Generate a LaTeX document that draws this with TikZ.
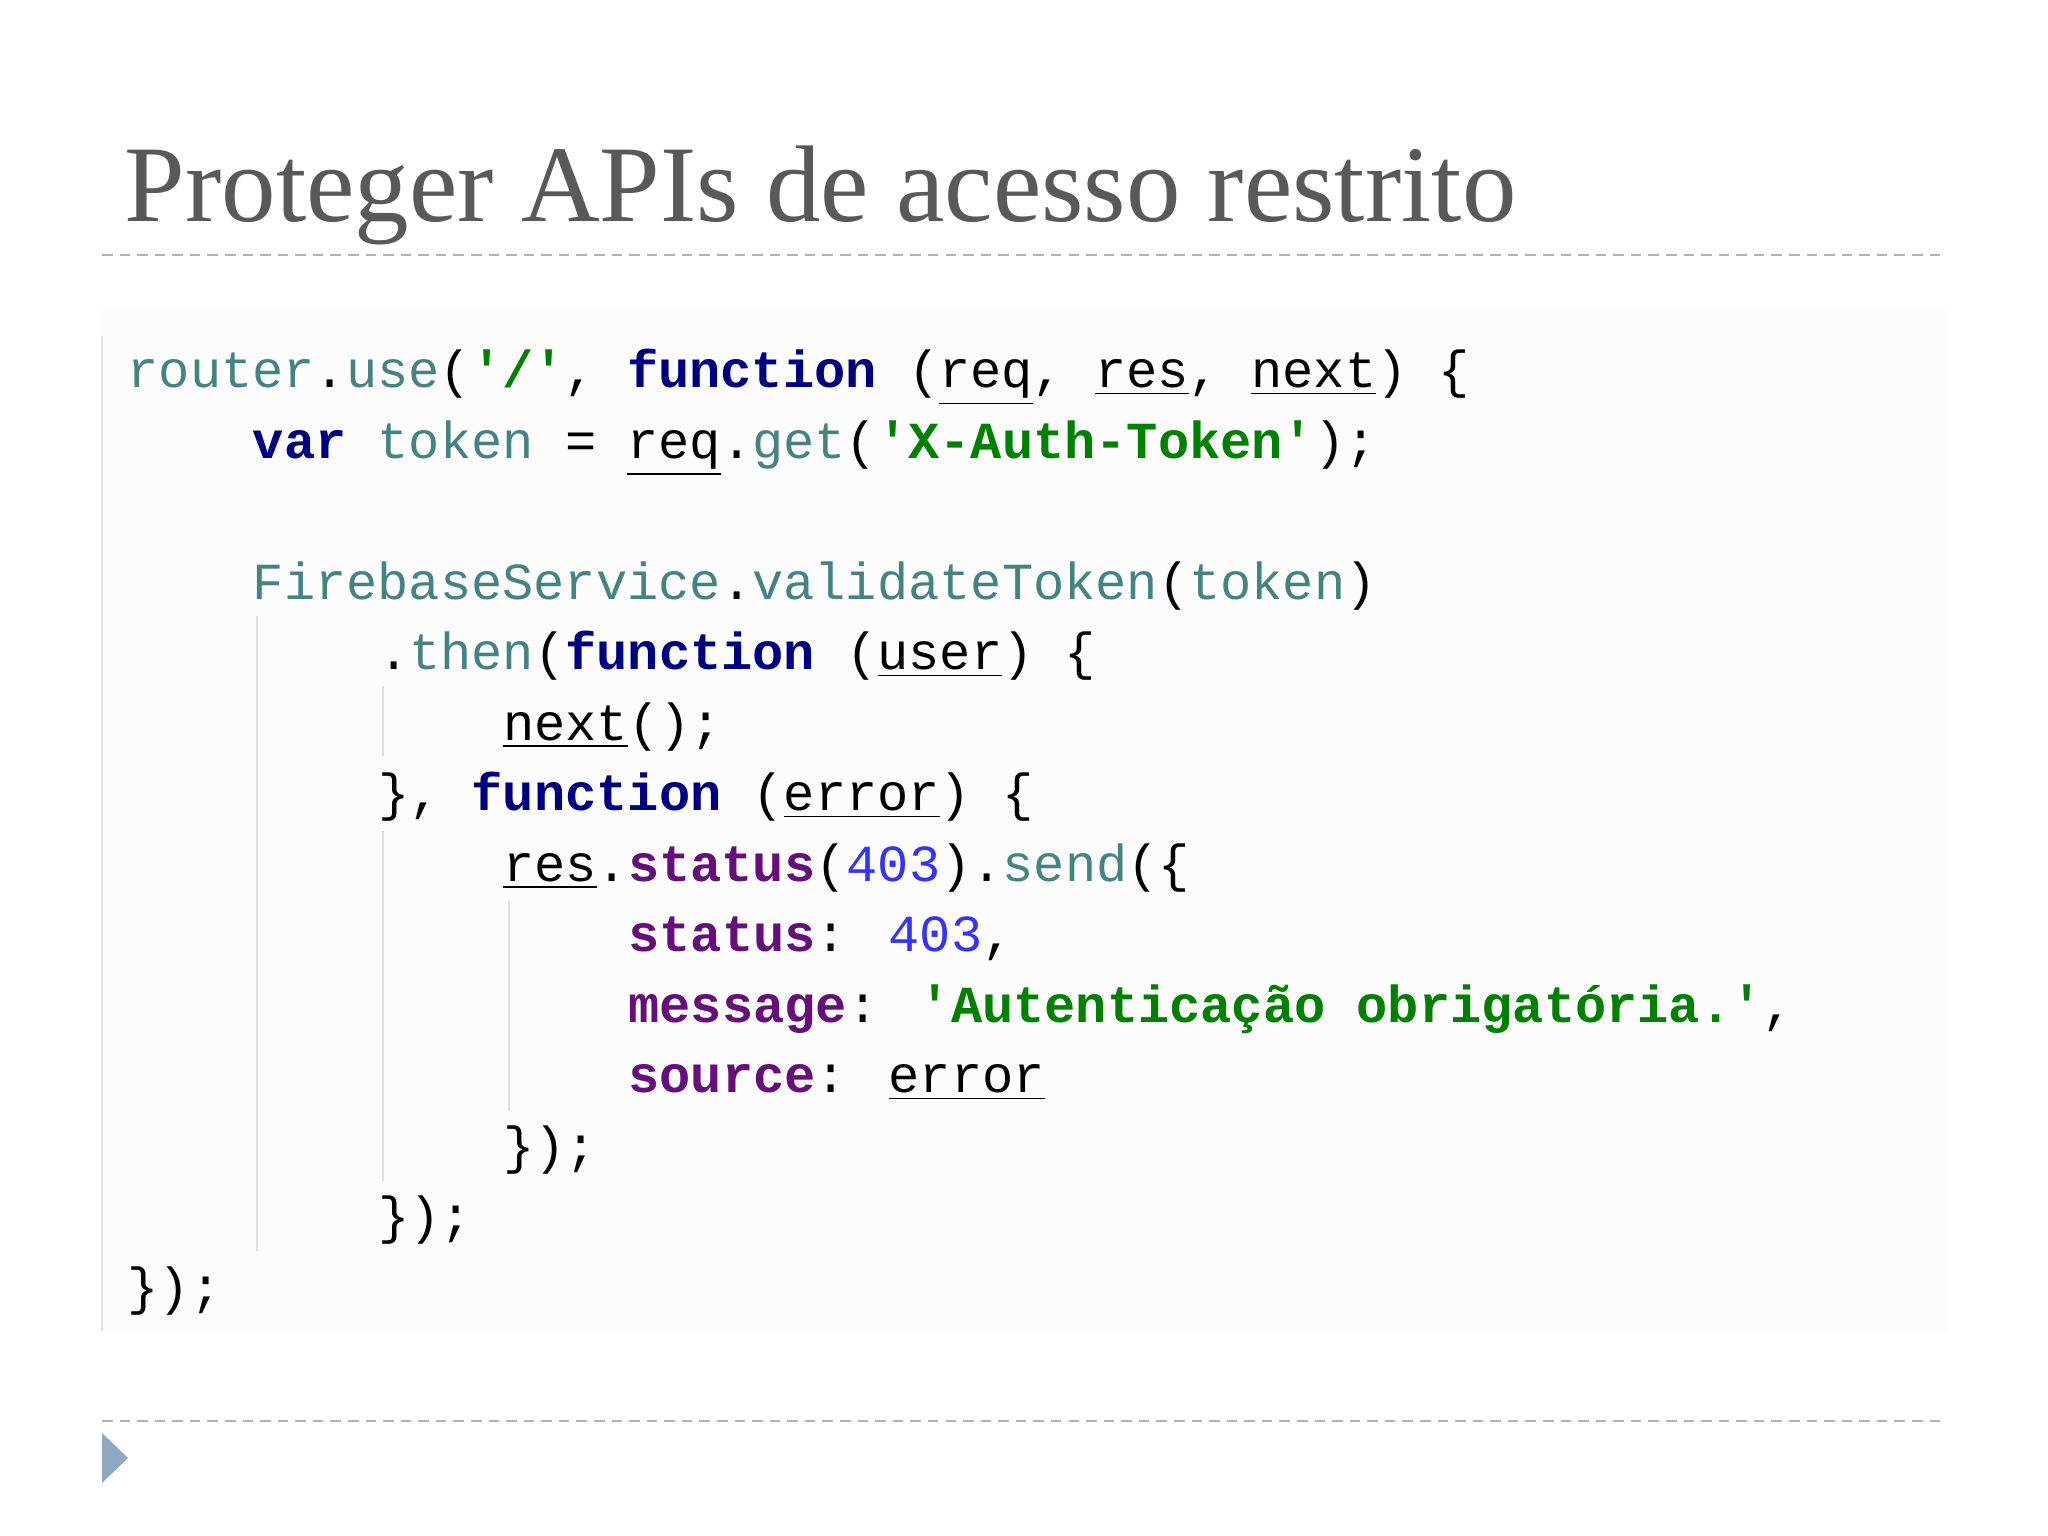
\documentclass[tikz,border=0pt]{standalone}
\usepackage{fontspec}
\setmainfont{Liberation Serif}
\newfontfamily\code{Liberation Mono}
\definecolor{ttl}{HTML}{595959}
\definecolor{kwc}{HTML}{000080}
\definecolor{stc}{HTML}{008000}
\definecolor{nuc}{HTML}{3333FF}
\definecolor{prc}{HTML}{660E7A}
\definecolor{mtc}{HTML}{458383}
\definecolor{tri}{HTML}{8FA8C0}
\newcommand{\kwd}[1]{\textcolor{kwc}{\bfseries #1}}
\newcommand{\strg}[1]{\textcolor{stc}{\bfseries #1}}
\newcommand{\numb}[1]{\textcolor{nuc}{#1}}
\newcommand{\prp}[1]{\textcolor{prc}{\bfseries #1}}
\newcommand{\mth}[1]{\textcolor{mtc}{#1}}
\newcommand{\uvar}[1]{\underline{#1}}
\tikzset{cl/.style={anchor=base west,inner sep=0pt,font=\code\fontsize{14.8}{17}\selectfont},
 dl/.style={draw=gray!60,dash pattern=on 3pt off 2pt,line width=0.6pt},
 guide/.style={draw=gray!25,line width=0.8pt}}
\begin{document}
\begin{tikzpicture}
\useasboundingbox[fill=white] (0,0) rectangle (20.48,15.36);
\fill[gray!2] (1.02,2.05) rectangle (19.46,12.3);
\node[anchor=base west,inner sep=0pt,text=ttl,font=\fontsize{31}{36}\selectfont] (title) at (1.24,13.14) {Proteger APIs de acesso restrito};
\coordinate (d1a) at (1.02,12.81); \coordinate (d1b) at (19.46,12.81);
\draw[dl] (d1a) -- (d1b);
\coordinate (d2a) at (1.02,1.15); \coordinate (d2b) at (19.46,1.15);
\draw[dl] (d2a) -- (d2b);
\fill[tri] (1.02,1.03) -- (1.28,0.78) -- (1.02,0.53) -- cycle;
% guides
\draw[guide] (1.02,12.0) -- (1.02,2.05);
\draw[guide] (2.57,9.2) -- (2.57,2.85);
\draw[guide] (3.83,8.5) -- (3.83,7.8);
\draw[guide] (3.83,7.05) -- (3.83,3.55);
\draw[guide] (5.09,6.35) -- (5.09,4.25);
\def\X#1{\fpeval{1.27+#1*0.313}}
\def\Y#1{\fpeval{15.36-3.88-0.705*(#1-1)}}
\node[cl] (l1) at (\X0,\Y1) {\mth{router}.\mth{use}(\strg{'/'}, \kwd{function} (\uvar{req}, \uvar{res}, \uvar{next}) \{};
\node[cl] (l2) at (\X4,\Y2) {\kwd{var} \mth{token} = \uvar{req}.\mth{get}(\strg{'X-Auth-Token'});};
\node[cl] (l4) at (\X4,\Y4) {\mth{FirebaseService}.\mth{validateToken}(\mth{token})};
\node[cl] (l5) at (\X8,\Y5) {.\mth{then}(\kwd{function} (\uvar{user}) \{};
\node[cl] (l6) at (\X{12},\Y6) {\uvar{next}();};
\node[cl] (l7) at (\X8,\Y7) {\}, \kwd{function} (\uvar{error}) \{};
\node[cl] (l8) at (\X{12},\Y8) {\uvar{res}.\prp{status}(\numb{403}).\mth{send}(\{};
\node[cl] (l9) at (\X{16},\Y9) {\prp{status}: \numb{403},};
\node[cl] (l10) at (\X{16},\Y{10}) {\prp{message}: \strg{'Autenticação obrigatória.'},};
\node[cl] (l11) at (\X{16},\Y{11}) {\prp{source}: \uvar{error}};
\node[cl] (l12) at (\X{12},\Y{12}) {\});};
\node[cl] (l13) at (\X8,\Y{13}) {\});};
\node[cl] (l14) at (\X0,\Y{14}) {\});};
\end{tikzpicture}
\end{document}
